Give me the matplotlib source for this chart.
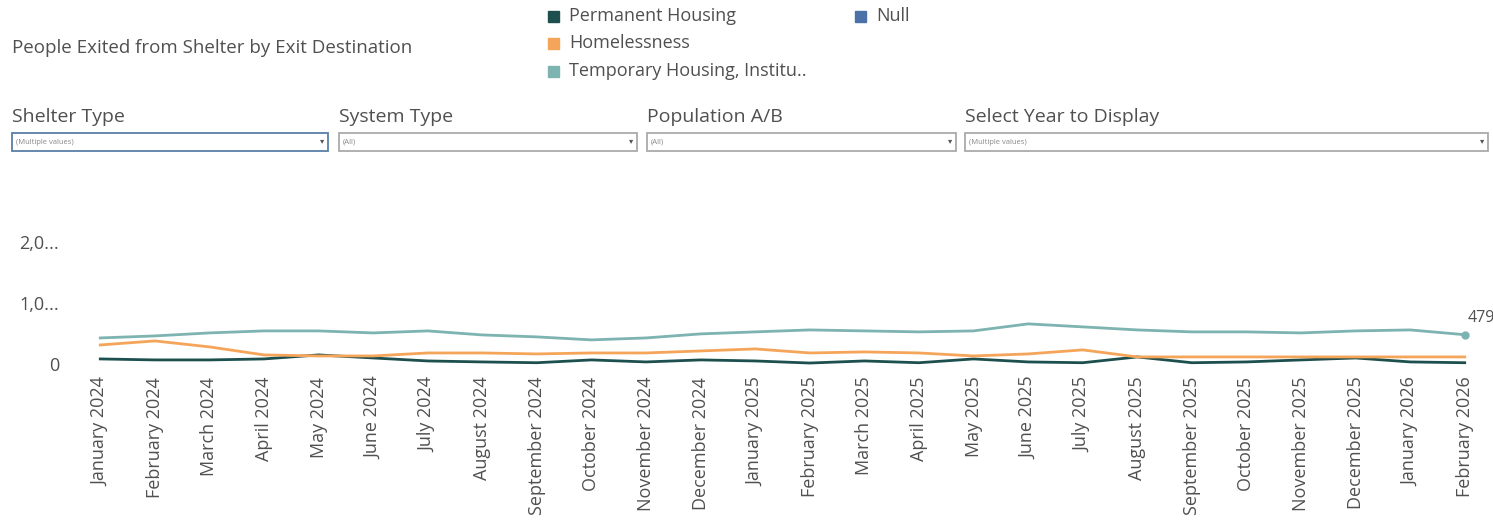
import matplotlib.pyplot as plt
from matplotlib.patches import Rectangle

plt.rcParams['font.family'] = ['Open Sans', 'DejaVu Sans']

W, H = 1493, 526

# Data
months = ['January 2024', 'February 2024', 'March 2024', 'April 2024', 'May 2024',
          'June 2024', 'July 2024', 'August 2024', 'September 2024', 'October 2024',
          'November 2024', 'December 2024', 'January 2025', 'February 2025',
          'March 2025', 'April 2025', 'May 2025', 'June 2025', 'July 2025',
          'August 2025', 'September 2025', 'October 2025', 'November 2025',
          'December 2025', 'January 2026', 'February 2026']
temporary = [426, 459, 508, 541, 541, 508, 541, 475, 443, 394, 426, 492, 525,
             557, 541, 525, 541, 656, 607, 557, 525, 525, 508, 541, 557, 479]
homeless = [311, 377, 279, 148, 131, 131, 180, 180, 164, 180, 180, 213, 246,
            180, 197, 180, 131, 164, 230, 115, 115, 115, 115, 115, 115, 115]
permanent = [82, 66, 66, 82, 148, 98, 49, 33, 20, 66, 33, 66, 49,
             15, 49, 20, 82, 33, 20, 115, 20, 33, 66, 98, 33, 20]

legend_labels = ['Permanent Housing', 'Homelessness', 'Temporary Housing, Institu..', 'Null']
colors = ['#1d4f4f', '#f5a55a', '#7db3b0', '#4a72a8']
filters = ['Shelter Type', 'System Type', 'Population A/B', 'Select Year to Display']
filter_values = ['(Multiple values)', '(All)', '(All)', '(Multiple values)']

TXT = '#505050'


def fx(px):
    return px / W


def fy(py):
    return 1 - py / H


fig = plt.figure(figsize=(W / 100, H / 100), dpi=100)
ax = fig.add_axes([fx(73), fy(367), fx(1492 - 73), (367 - 185) / H])

x = list(range(len(months)))
ax.plot(x, permanent, color=colors[0], lw=2)
ax.plot(x, homeless, color=colors[1], lw=2)
ax.plot(x, temporary, color=colors[2], lw=2)
ax.plot(x[-1], temporary[-1], 'o', color=colors[2], ms=5)
ax.annotate(str(temporary[-1]), (x[-1], temporary[-1]), xytext=(2, 9),
            textcoords='offset points', fontsize=11.5, color=TXT)

ax.set_xlim(-0.5, 25.5)
ax.set_ylim(-50, 2930)
ax.set_yticks([0, 1000, 2000])
ax.set_yticklabels(['0', '1,0...', '2,0...'], fontsize=13, color=TXT)
ax.set_xticks(x)
ax.set_xticklabels(months, rotation=90, fontsize=13, color=TXT)
ax.tick_params(axis='y', length=0, pad=10)
ax.tick_params(axis='x', length=0, pad=7)
for s in ax.spines.values():
    s.set_visible(False)

# Header
fig.text(fx(12), fy(48), 'People Exited from Shelter by Exit Destination',
         fontsize=13.5, color=TXT, va='center')

leg_pos = [(548, 16), (548, 43), (548, 71), (855, 16)]
for (lx, ly), lab, c in zip(leg_pos, legend_labels, colors):
    fig.patches.append(Rectangle((fx(lx), fy(ly + 6)), fx(11), 11 / H,
                                 transform=fig.transFigure, color=c))
    fig.text(fx(lx + 21), fy(ly), lab, fontsize=13, color=TXT, va='center')

box_x = [(12, 328), (339, 637), (647, 956), (965, 1488)]
for (x0, x1), lab, val, i in zip(box_x, filters, filter_values, range(4)):
    fig.text(fx(x0), fy(117), lab, fontsize=14, color=TXT, va='center')
    ec = '#5b7fa8' if i == 0 else '#aaaaaa'
    fig.patches.append(Rectangle((fx(x0), fy(151)), fx(x1 - x0), 18 / H,
                                 transform=fig.transFigure, facecolor='white',
                                 edgecolor=ec, lw=1.3))
    fig.text(fx(x0 + 4), fy(142), val, fontsize=5.5, color='#888888', va='center')
    fig.text(fx(x1 - 8), fy(142), '▾', fontsize=6, color='#555555', va='center')

fig.savefig('out.png', dpi=100)
plt.close()
